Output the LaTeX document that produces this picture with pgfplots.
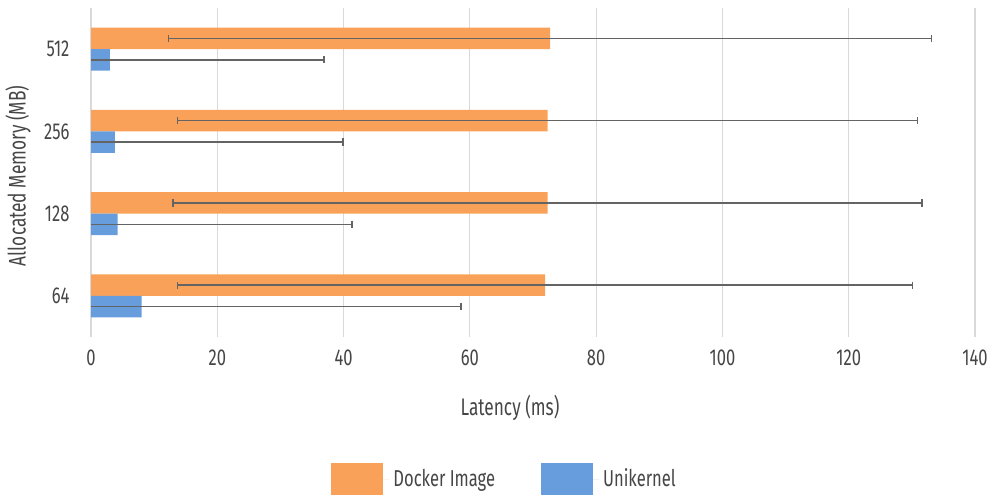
\documentclass[border=0pt]{standalone}
\usepackage{fontspec}
\setmainfont{Fira Sans}[FakeStretch=0.72]
\usepackage{pgfplots}
\usepackage{pgfplotstable}
\pgfplotsset{compat=1.18}
\definecolor{dockerorange}{RGB}{249,161,88}
\definecolor{unikblue}{RGB}{104,157,221}
\definecolor{labelgray}{RGB}{70,70,70}
\definecolor{gridgray}{RGB}{217,217,217}
\definecolor{errgray}{RGB}{100,100,100}

% y: 0=64, 1=128, 2=256, 3=512
\pgfplotstableread{
y docker dockerr unik unikerr
0 71.9 58.2 8.0 50.6
1 72.3 59.3 4.2 37.1
2 72.3 58.6 3.8 36.1
3 72.7 60.4 3.0 33.9
}\latency

\begin{document}
\begin{tikzpicture}
\useasboundingbox (-45.5pt,-79.5pt) rectangle (452pt,168.5pt);
\begin{axis}[
  at={(0,0)}, anchor=south west,
  scale only axis, width=442pt, height=164.5pt,
  xbar, bar width=0.26,
  xmin=0, xmax=140, ymin=-0.5, ymax=3.5,
  xtick={0,20,...,140}, ytick={0,1,2,3}, yticklabels={64,128,256,512},
  axis line style={draw=none}, tick style={draw=none},
  xmajorgrids, grid style={gridgray, line width=0.6pt},
  tick label style={font=\fontsize{11.5}{13}\selectfont, text=labelgray},
  /pgf/number format/assume math mode=true,
  xticklabel style={yshift=-3pt},
  yticklabel style={xshift=-3pt},
  xlabel={Latency (ms)}, ylabel={Allocated Memory (MB)},
  label style={font=\fontsize{12}{14}\selectfont, text=labelgray},
  xlabel style={at={(axis description cs:0.474,-0.216)}, anchor=center},
  ylabel style={at={(axis description cs:-0.0826,0.49)}, anchor=center},
  legend style={at={(axis description cs:0.469,-0.371)}, anchor=north,
    legend columns=2, draw=none, font=\fontsize{11.5}{13}\selectfont,
    text=labelgray, /tikz/every even column/.append style={column sep=21pt}},
  legend image code/.code={\path (0pt,0pt) -- (29pt,0pt);
    \fill[#1,draw=none] (0pt,-8pt) rectangle (26pt,8pt);},
  error bars/x dir=both, error bars/x explicit,
  error bars/error mark=|,
  error bars/error bar style={draw=errgray, line width=0.8pt},
  error bars/error mark options={draw=errgray, line width=0.8pt, mark size=1.8pt},
]
\addplot[fill=dockerorange, draw=none, bar shift=0.13]
  table[x=docker, y=y, x error=dockerr] {\latency};
\addplot[fill=unikblue, draw=none, bar shift=-0.13]
  table[x=unik, y=y, x error=unikerr] {\latency};
\legend{Docker Image, Unikernel}
\end{axis}
\end{tikzpicture}
\end{document}
